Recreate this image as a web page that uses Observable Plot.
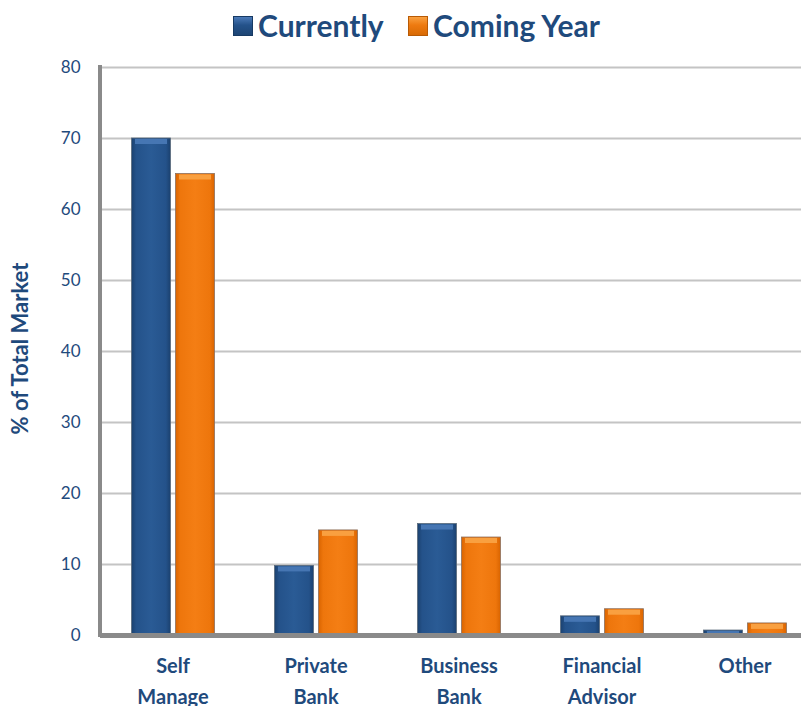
<!DOCTYPE html>
<html><head><meta charset="utf-8">
<script src="https://cdn.jsdelivr.net/npm/d3@7"></script>
<script src="https://cdn.jsdelivr.net/npm/@observablehq/plot@0.6"></script>
<style>
body{margin:0;background:#fff;font-family:Lato,sans-serif;}
#legend{position:relative;height:50px;width:801px;}
.sw{position:absolute;top:16px;width:20px;height:20px;box-sizing:border-box;}
.lt{position:absolute;top:7px;font:bold 30px Lato,sans-serif;color:#1f4a7c;line-height:36px;white-space:nowrap;}
</style></head>
<body>
<div id="legend">
  <div class="sw" style="left:233px;background:linear-gradient(to bottom,#4b7ab8,#24528a 45%,#1d4574);border:1px solid #173a63"></div>
  <div class="lt" style="left:258px">Currently</div>
  <div class="sw" style="left:408px;background:linear-gradient(to bottom,#f9a040,#ee7a10 45%,#d86a05);border:1px solid #b85a05"></div>
  <div class="lt" style="left:433px">Coming Year</div>
</div>
<div id="chart"></div>
<script>
const categories = ["Self Manage", "Private Bank", "Business Bank", "Financial Advisor", "Other"];
const tickLabels = ["Self\nManage", "Private\nBank", "Business\nBank", "Financial\nAdvisor", "Other"];
const seriesNames = ["Currently", "Coming Year"];
const currently = [70, 9.8, 15.7, 2.7, 0.7];
const comingYear = [65, 14.8, 13.8, 3.7, 1.7];
const yTicks = [0, 10, 20, 30, 40, 50, 60, 70, 80];
const yTitle = "% of Total Market";

const rows = categories.flatMap((c, i) => [
  {category: c, series: seriesNames[0], value: currently[i]},
  {category: c, series: seriesNames[1], value: comingYear[i]}
]);
const blueRows = rows.filter(r => r.series === seriesNames[0]);
const orangeRows = rows.filter(r => r.series === seriesNames[1]);
const textColor = "#1f4a7c";

const defs = () => {
  const svgNS = "http://www.w3.org/2000/svg";
  const d = document.createElementNS(svgNS, "defs");
  d.innerHTML = `
  <linearGradient id="gBlue" x1="0" x2="1" y1="0" y2="0">
    <stop offset="0" stop-color="#1b416f"/><stop offset="0.12" stop-color="#24528a"/>
    <stop offset="0.5" stop-color="#2a5b95"/><stop offset="0.88" stop-color="#24528a"/>
    <stop offset="1" stop-color="#1b416f"/></linearGradient>
  <linearGradient id="gOrange" x1="0" x2="1" y1="0" y2="0">
    <stop offset="0" stop-color="#d96400"/><stop offset="0.12" stop-color="#ee760c"/>
    <stop offset="0.5" stop-color="#f47e14"/><stop offset="0.88" stop-color="#ee760c"/>
    <stop offset="1" stop-color="#d96400"/></linearGradient>`;
  return d;
};

const leftAxisLine = (index, scales, values, dims) => {
  const svgNS = "http://www.w3.org/2000/svg";
  const l = document.createElementNS(svgNS, "line");
  l.setAttribute("x1", dims.marginLeft); l.setAttribute("x2", dims.marginLeft);
  l.setAttribute("y1", scales.y(80) - 2); l.setAttribute("y2", scales.y(0) + 2);
  l.setAttribute("stroke", "#8a8a8a"); l.setAttribute("stroke-width", 4);
  return l;
};

const chart = Plot.plot({
  width: 801,
  height: 656,
  marginTop: 17,
  marginBottom: 71,
  marginLeft: 100,
  marginRight: 0,
  style: {fontFamily: "Lato, sans-serif", background: "#fff"},
  x: {domain: categories, range: [100.5, 815.5], padding: 0, axis: null},
  y: {domain: [0, 80], axis: null},
  marks: [
    defs,
    Plot.ruleY(yTicks.filter(t => t > 0), {stroke: "#c4c4c4", strokeWidth: 2}),
    Plot.barY(blueRows, {
      x: "category", y: "value", fill: "url(#gBlue)", stroke: "#5a6a7a", strokeWidth: 0.8,
      insetLeft: 30.5, insetRight: 73.5
    }),
    Plot.tickY(blueRows, {x: "category", y: "value", dy: 3, stroke: "#4676b3", strokeWidth: 5,
      insetLeft: 34, insetRight: 77}),
    Plot.barY(orangeRows, {
      x: "category", y: "value", fill: "url(#gOrange)", stroke: "#8a7060", strokeWidth: 0.8,
      insetLeft: 74.5, insetRight: 29.5
    }),
    Plot.tickY(orangeRows, {x: "category", y: "value", dy: 3, stroke: "#f9a040", strokeWidth: 5,
      insetLeft: 78, insetRight: 33}),
    Plot.ruleY([0], {stroke: "#8a8a8a", strokeWidth: 5}),
    leftAxisLine,
    Plot.axisY({ticks: yTicks, tickSize: 0, tickPadding: 20, fontSize: 17, color: textColor, label: null}),
    Plot.axisX({domain: categories, tickSize: 0, tickPadding: 15, fontSize: 20, fontWeight: "bold",
      lineHeight: 1.55, color: textColor, label: null,
      tickFormat: d => tickLabels[categories.indexOf(d)]}),
    Plot.text([yTitle], {text: d => d, frameAnchor: "left", dx: -80, dy: -3, rotate: -90, textAnchor: "middle",
      fontSize: 22, fontWeight: "bold", fill: textColor})
  ]
});
document.getElementById("chart").appendChild(chart);
</script>
</body></html>
